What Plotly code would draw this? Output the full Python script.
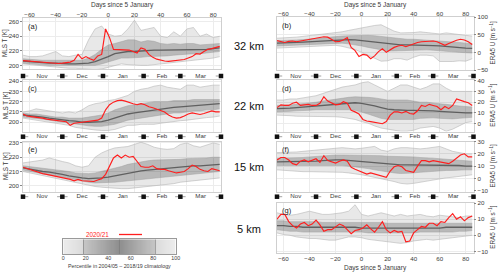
import plotly.graph_objects as go

# ---------------- data ----------------
BAND_DAYS = list(range(-65, 86, 5))
RED_DAYS = list(range(-65, 86, 3))
DAY_TICKS = [-60, -40, -20, 0, 20, 40, 60, 80]
MONTH_STARTS = [-65, -35, -4, 27, 55, 86]
MONTH_MIDS = [-50.5, -20, 11, 41, 70.5]
MONTH_NAMES = ["Nov", "Dec", "Jan", "Feb", "Mar"]
CB_EDGES = list(range(0, 101))
CB_TICKS = [0, 20, 40, 60, 80, 100]
CB_LINES = [18, 50, 82]
LEVELS = ["32 km", "22 km", "15 km", "5 km"]
LEGEND_LABEL = "2020/21"

# (a) MLS T 32 km
A_RED = [206.5, 206, 205.5, 205, 204, 203.5, 203, 202.5, 202.5, 202.5,
         203, 203.5, 204.5, 207, 215, 209, 212, 209, 207, 213,
         215, 250, 238, 222, 222, 222, 222, 221, 219, 217,
         224, 222, 215, 211, 208.5, 207, 206, 205.5, 206, 206.5,
         207, 208, 210, 212, 216, 215.5, 219, 222, 223, 225, 226]
A_OUT_HI = [214, 212, 212, 213, 216, 219, 213, 212, 214, 215, 235, 250, 254, 243, 240, 241,
            250, 262, 248, 250, 252, 240, 238, 246, 240, 250, 252, 240, 243, 238, 240]
A_OUT_LO = [202, 201, 200, 199, 199, 198, 197, 196, 196, 195, 194, 194, 195, 197, 199, 202,
            201, 200, 200, 200, 201, 202, 203, 203, 204, 205, 206, 207, 209, 210, 212]
A_IN_HI = [209, 208, 207, 207, 207, 207, 206, 206, 206, 207, 210, 215, 222, 228, 230, 232,
           235, 235, 232, 234, 233, 230, 229, 230, 229, 230, 230, 228, 229, 229, 230]
A_IN_LO = [203, 202, 201, 201, 200, 200, 200, 199, 199, 199, 199, 200, 202, 205, 208, 210,
           210, 210, 211, 212, 212, 213, 213, 214, 215, 215, 216, 216, 217, 218, 219]
A_MED = [206, 205, 204, 204, 203, 203, 202, 202, 202, 202, 203, 205, 208, 212, 216, 218,
         219, 219, 220, 220, 221, 221, 221, 221, 221, 221, 222, 222, 222, 223, 224]

# (c) MLS T 22 km
C_RED = [208, 206, 205.5, 205, 205, 204, 203, 202.5, 202, 201.5,
         201, 200.5, 197, 199, 199.5, 200, 200, 200.5, 201, 202,
         204, 212, 217, 219.5, 221, 221.5, 220.5, 219, 218, 217,
         218, 217, 215, 214, 212.5, 211.5, 210, 207, 205, 204,
         204.5, 206, 208, 209, 208, 207.5, 208.5, 209.5, 211, 210, 210]
C_OUT_HI = [210, 211, 213, 212, 211, 210, 209, 210, 209, 212, 216, 218, 219, 221, 222, 224,
            226, 230, 232, 233, 235, 236, 234, 233, 232, 236, 236, 234, 235, 236, 236]
C_OUT_LO = [204, 203, 202, 201, 200, 199, 198, 197, 195, 194, 193, 192.5, 192, 192, 193, 195,
            197, 197, 198, 198, 198, 199, 200, 201, 201.5, 202, 203, 204, 204.5, 205, 206]
C_IN_HI = [209, 208, 208, 207, 206, 205, 205, 204, 204, 204, 205, 206, 207, 209, 212, 214,
           216, 217, 218, 219, 220, 220, 220, 221, 221, 221, 222, 222, 222, 222, 222]
C_IN_LO = [205, 204.5, 204, 203, 202, 201, 200, 199, 198, 197, 196.5, 196, 196, 197, 198, 200,
           202, 203, 204, 205, 206, 207, 208, 209, 209, 210, 211, 211, 212, 212, 213]
C_MED = [207, 206.5, 206, 205, 204, 203, 202.5, 201.5, 201, 200, 200, 200, 200.5, 202, 204, 206,
         208, 209, 210, 211, 212, 213, 214, 214.5, 215, 215.5, 216, 216.5, 217, 217, 218]

# (e) MLS T 15 km
E_RED = [213, 212, 211.5, 210.5, 209.5, 208.5, 208, 207.5, 207, 206.5,
         206, 205.5, 204.5, 203.5, 204.5, 203.5, 203.5, 203, 203, 204,
         205, 208, 214, 219.5, 221.5, 219.5, 221.5, 220, 220.5, 217,
         213.5, 213, 213, 214, 212, 211.5, 211.5, 210.5, 210, 209,
         209.5, 210, 212, 214.5, 213.5, 211.5, 210.5, 210, 212, 211, 210.5]
E_OUT_HI = [216, 216.5, 217, 218, 219.5, 218, 217, 216, 214, 213, 214, 220, 223, 225, 226.5, 227,
            227.5, 229, 230.5, 229, 227, 226, 225.5, 226, 229, 230, 228, 227, 228.5, 230, 229]
E_OUT_LO = [210, 209, 208, 207, 206.5, 205.5, 204.5, 203.5, 202.5, 201.5, 200.5, 199.5, 199, 198.5,
            198, 198, 198, 198.5, 199, 199, 199.5, 200, 200.5, 201.5, 202.5, 203, 203.5, 204,
            204.5, 205, 205.5]
E_IN_HI = [214, 213.5, 213, 212.5, 212, 211.5, 211, 210, 209, 208.5, 208.5, 209, 210, 211, 212.5,
           213.5, 215, 216, 217, 217.5, 218, 218, 218, 218, 218.5, 219, 219, 219.5, 219.5, 220, 220]
E_IN_LO = [211, 210, 209, 208, 207.5, 207, 206, 205, 204, 203, 202.5, 202, 202, 202, 202.5, 203,
           203.5, 204, 204.5, 205, 205.5, 206, 206.5, 207, 207.5, 208, 208.5, 209, 209, 209.5, 210]
E_MED = [212.5, 211.5, 211, 210, 209.5, 209, 208, 207, 206, 205.5, 205, 205, 205.5, 206, 207, 208,
         209, 210, 210.5, 211, 211.5, 212, 212.5, 213, 213, 213.5, 214, 214, 214.5, 214.5, 215]

# (b) ERA5 U 32 km
B_RED = [33, 31, 28, 31, 32, 30, 32, 35, 37, 39,
         40, 42, 44, 43, 37, 30, 31, 35, 42, 14,
         5, -12, -6, -8, -18, -10, 2, 10, 0, 8,
         14, 18, 20, 16, 20, 25, 28, 30, 31, 32,
         32, 30, 26, 20, 25, 30, 34, 37, 35, 30, 22]
B_OUT_HI = [40, 40, 42, 43, 45, 47, 48, 50, 52, 54, 58, 62, 66, 70, 74, 76,
            78, 68, 60, 55, 55, 56, 58, 56, 54, 52, 55, 52, 50, 48, 46]
B_OUT_LO = [12, 13, 14, 15, 16, 17, 18, 19, 20, 20, 17, 13, 8, 0, -8, -18,
            -25, -24, -18, -18, -22, -14, -8, -8, -10, -26, -27, -26, -24, -25, -18]
B_IN_HI = [33, 33, 34, 35, 36, 38, 40, 42, 44, 45, 46, 47, 48, 48, 48, 47,
           45, 42, 40, 38, 37, 37, 36, 35, 34, 32, 30, 29, 28, 26, 24]
B_IN_LO = [18, 19, 20, 21, 22, 23, 24, 25, 26, 27, 26, 24, 22, 18, 14, 10,
           6, 4, 4, 5, 5, 6, 7, 7, 6, 4, 2, 1, 0, -1, -2]
B_MED = [26, 26, 27, 28, 29, 30, 32, 34, 35, 36, 36, 36, 35, 33, 31, 29,
         27, 24, 22, 21, 21, 21, 21, 20, 19, 18, 16, 15, 14, 12, 11]

# (d) ERA5 U 22 km
D_RED = [15, 17.5, 17, 17, 19, 20, 17, 17.5, 18, 17,
         17, 19, 25, 21, 19, 17.5, 18, 20.5, 19, 12.5,
         11, 9, 4, 2.5, 2, 1.5, 0.5, 0, 2, 8,
         11, 11, 10, 11.5, 9.5, 9, 12, 17, 16, 18,
         17, 16, 13, 16, 14, 17, 23, 21.5, 20.5, 19.5, 17]
D_OUT_HI = [22, 22, 23, 23, 24, 25, 26, 28, 30, 32, 34, 35, 36, 38, 39, 36,
            33, 30, 33, 36, 36, 34, 32, 34, 37, 37, 33, 30, 30, 30, 30]
D_OUT_LO = [8, 8, 7.5, 7, 7, 6.5, 6.5, 6.5, 6.5, 6.5, 6, 5, 4, 2, 0.5, -2,
            -4, -5, -6, -7, -7, -6, -4, -3, -2.5, -4, -7, -5, -2, 1, 2]
D_IN_HI = [17, 17, 17.5, 18, 18.5, 19, 20, 21, 22, 23, 24, 24.5, 25, 25, 24.5, 24,
           23, 22, 22, 22, 22, 21, 20, 20, 19, 18.5, 18, 17, 16.5, 16, 15.5]
D_IN_LO = [11, 11, 11.5, 12, 12, 12.5, 13, 13, 13.5, 13.5, 13.5, 13, 12.5, 11, 9, 7,
           5, 4, 4, 3.5, 3.5, 4, 5, 5.5, 5.5, 5, 4.5, 4.5, 5, 5.5, 6]
D_MED = [14, 14, 14.5, 15, 15.5, 16, 17, 17.5, 18, 18.5, 19, 19.5, 19.5, 19, 18, 16.5,
         15, 13.5, 13, 12.5, 12.5, 12.5, 12.5, 12.5, 12, 11.5, 11, 10.5, 10.5, 10, 10]

# (f) ERA5 U 15 km
F_RED = [15, 17, 17, 15, 12, 11, 14, 15, 13.5, 15,
         16, 13, 18.5, 14.5, 13.5, 12.5, 14, 15, 14, 9,
         7.5, 6, 5, 3.5, 4.5, 3.5, 3, 2, 1, 6,
         9.5, 10.5, 9.5, 6.5, 5.5, 5, 10, 14.5, 14.5, 13.5,
         14.5, 14, 13, 13, 12, 14, 16.5, 19, 20, 17.5, 17.5]
F_OUT_HI = [21, 21, 21.5, 21.5, 22, 22.5, 23, 24, 24.5, 25, 25, 24.5, 24, 24.5, 25.5, 26,
            23, 22, 24, 25, 25, 24.5, 24, 24.5, 25.5, 26, 24, 22, 21, 20, 20]
F_OUT_LO = [7, 6.5, 6, 6, 5.5, 5.5, 5.5, 5.5, 5.5, 5.5, 5, 4.5, 4, 3, 2, 1,
            0, -1, -2.5, -4, -4.5, -4, -3, -2, -1, 0, 0.5, 1, 1.5, 2.5, 3]
F_IN_HI = [16.5, 16.5, 16.5, 17, 17, 17.5, 18, 18.5, 19, 19, 19, 19, 19, 19, 19, 19,
           18.5, 18, 18, 18, 18, 17.5, 17, 17, 16.5, 16, 15.5, 15, 14.5, 14, 14]
F_IN_LO = [10.5, 10.5, 10.5, 10.5, 10.5, 10.5, 10.5, 11, 11, 11, 10.5, 10, 9.5, 9, 8, 7,
           6, 5, 4.5, 4, 4, 4.5, 5, 5.5, 6, 6, 6.5, 6.5, 7, 7, 7]
F_MED = [13.5, 13.5, 13.5, 13.5, 14, 14, 14, 14.5, 15, 15, 15, 14.5, 14, 14, 13.5, 13,
         12.5, 11.5, 11, 11, 11, 11, 11, 11, 11, 11, 10.5, 10.5, 10.5, 10, 10]

# (g) ERA5 U 5 km
G_RED = [10, 13, 13, 8.5, 6, 4.6, 7, 8, 6, 7,
         9.5, 6.5, 2.5, 3.5, 3.5, 5, 7, 6, 3.5, 1,
         3, 3.5, 4.6, 6.5, 4, 2, 5, 8.5, 3.5, 1.5,
         3, 2, 2.5, -4, -3.5, 1.5, 3.5, 5.5, 5, 7.5,
         7.5, 6, 8.5, 8, 11, 13.5, 10, 11.5, 9, 11, 12]
G_OUT_HI = [14, 13, 12.5, 13, 14, 15, 14, 13, 13, 13.5, 14, 15, 19, 13, 12, 13,
            14, 13, 12, 13, 12, 12.5, 13, 12, 11.5, 12.5, 12, 11.5, 11, 12, 12]
G_OUT_LO = [1.5, 0.5, 0, -1, -1.5, -2, -2, -2.5, -3, -3, -2, -1, -1, -1.5, -2.5, -3,
            -3.5, -4, -4.5, -5, -4.5, -3.5, -3, -2.5, -3, -2.5, -2, -1.5, -1, -0.5, 0]
G_IN_HI = [9, 9, 8.5, 8.5, 8.5, 8.5, 8.5, 8, 8, 8, 8, 8, 8, 8, 8, 8,
           8, 7.5, 7.5, 7.5, 7.5, 7.5, 7.5, 7.5, 7.5, 7.5, 7.5, 7.5, 7.5, 7.5, 7.5]
G_IN_LO = [3.5, 3, 2.5, 2.5, 2, 2, 2, 2, 2, 2, 2, 2, 2, 2, 1.5, 1.5,
           1.5, 1.5, 1.5, 1.5, 1.5, 1.5, 2, 2, 2, 2, 2, 2, 2.5, 2.5, 3]
G_MED = [6, 6, 5.5, 5.5, 5, 5, 5, 5, 5, 5, 5, 5, 5, 4.5, 4.5, 4.5,
         4.5, 4.5, 4.5, 4.5, 4.5, 4.5, 4.5, 4.5, 4.5, 4.5, 5, 5, 5, 5, 5]

# ---------------- layout helpers ----------------
W, H = 500, 274
FONT = "Liberation Sans, Arial, Helvetica, sans-serif"
TXT = "#3a3a3a"
GRID = "#ececec"
FRAME = "#cfcfcf"
RED = "#ff1e1e"


def px_x(x0, x1):
    return [x0 / W, x1 / W]


def px_y(y0, y1):
    return [1 - y1 / H, 1 - y0 / H]


LEFT = (23, 221)
RIGHT = (277, 473.5)
XRANGE = [-65, 86]

PANELS = [
    ("a", (A_RED, A_OUT_HI, A_OUT_LO, A_IN_HI, A_IN_LO, A_MED), LEFT, (18, 69), [195, 265], [200, 220, 240, 260], 76, "top"),
    ("b", (B_RED, B_OUT_HI, B_OUT_LO, B_IN_HI, B_IN_LO, B_MED), RIGHT, (17, 70), [-50, 100], [-50, 0, 50, 100], 76, "top"),
    ("c", (C_RED, C_OUT_HI, C_OUT_LO, C_IN_HI, C_IN_LO, C_MED), LEFT, (80, 131.5), [191, 241], [200, 210, 220, 230, 240], 136.7, None),
    ("d", (D_RED, D_OUT_HI, D_OUT_LO, D_IN_HI, D_IN_LO, D_MED), RIGHT, (80, 131.5), [-7.2, 40.6], [0, 10, 20, 30, 40], 136.7, None),
    ("e", (E_RED, E_OUT_HI, E_OUT_LO, E_IN_HI, E_IN_LO, E_MED), LEFT, (141.5, 191.5), [196, 231], [200, 210, 220, 230], 196.7, None),
    ("f", (F_RED, F_OUT_HI, F_OUT_LO, F_IN_HI, F_IN_LO, F_MED), RIGHT, (141.5, 191.5), [-10.6, 30], [-10, 0, 10, 20, 30], 196.7, None),
    ("g", (G_RED, G_OUT_HI, G_OUT_LO, G_IN_HI, G_IN_LO, G_MED), RIGHT, (202.5, 253), [-11, 20.4], [-10, 0, 10, 20], None, "bottom"),
]


def ax_names(n):
    return ("x" if n == 1 else f"x{n}", "y" if n == 1 else f"y{n}",
            "xaxis" if n == 1 else f"xaxis{n}", "yaxis" if n == 1 else f"yaxis{n}")


fig = go.Figure()
layout = {}
annotations = []
shapes = []


def ann(text, x, y, size, color=TXT, angle=0, xanchor="center", yanchor="middle"):
    annotations.append(dict(text=text, x=x / W, y=1 - y / H, xref="paper", yref="paper",
                            showarrow=False, textangle=angle, xanchor=xanchor, yanchor=yanchor,
                            font=dict(family=FONT, size=size, color=color)))


n_extra = len(PANELS)
for i, (letter, data, col, (ytop, ybot), yrange, yticks, month_y, xlab) in enumerate(PANELS):
    n = i + 1
    xa, ya, xk, yk = ax_names(n)
    red, out_hi, out_lo, in_hi, in_lo, med = data
    common = dict(xaxis=xa, yaxis=ya, hoverinfo="skip", showlegend=False)
    fig.add_trace(go.Scatter(x=BAND_DAYS, y=out_lo, mode="lines",
                             line=dict(color="#b5b5b5", width=0.6), **common))
    fig.add_trace(go.Scatter(x=BAND_DAYS, y=out_hi, mode="lines", fill="tonexty",
                             fillcolor="rgba(0,0,0,0.09)",
                             line=dict(color="#b5b5b5", width=0.6), **common))
    fig.add_trace(go.Scatter(x=BAND_DAYS, y=in_lo, mode="lines",
                             line=dict(color="#a0a0a0", width=0.5), **common))
    fig.add_trace(go.Scatter(x=BAND_DAYS, y=in_hi, mode="lines", fill="tonexty",
                             fillcolor="rgba(0,0,0,0.20)",
                             line=dict(color="#a0a0a0", width=0.5), **common))
    fig.add_trace(go.Scatter(x=BAND_DAYS, y=med, mode="lines",
                             line=dict(color="rgba(80,80,80,0.85)", width=1.3), **common))
    fig.add_trace(go.Scatter(x=RED_DAYS, y=red, mode="lines",
                             line=dict(color=RED, width=1.15), **common))

    show_x = xlab is not None
    layout[xk] = dict(domain=px_x(*col), range=XRANGE, anchor=ya, tickvals=DAY_TICKS,
                      showticklabels=show_x, side=xlab if show_x else "bottom",
                      ticks="", ticklabelstandoff=(-2 if xlab == "top" else 0),
                      showgrid=True, gridcolor=GRID, gridwidth=0.6, zeroline=False,
                      showline=True, mirror=True, linecolor=FRAME, linewidth=0.6, automargin=False,
                      tickfont=dict(family=FONT, size=6.2, color=TXT), fixedrange=True)
    layout[yk] = dict(domain=px_y(ytop, ybot), range=yrange, anchor=xa, tickvals=yticks,
                      side="left" if col is LEFT else "right",
                      ticks="outside", ticklen=2, tickwidth=0.6, tickcolor="#888",
                      showgrid=True, gridcolor=GRID, gridwidth=0.6, zeroline=False,
                      showline=True, mirror=True, linecolor=FRAME, linewidth=0.6, automargin=False,
                      tickfont=dict(family=FONT, size=6.2, color=TXT), fixedrange=True)

    # panel letter
    ann(f"({letter})", col[0] + 2.5, ytop + 1.5, 7.5, color="#222", xanchor="left", yanchor="top")
    # axis titles
    yc = (ytop + ybot) / 2
    if col is LEFT:
        ann("MLS T [K]", 5.5, yc, 6.3, angle=-90)
    else:
        ann("ERA5 U [m s<sup>−1</sup>]", 493, yc, 6.3, angle=-90)

    # month row
    if month_y is not None:
        n_extra += 1
        mxa, mya, mxk, myk = ax_names(n_extra)
        layout[mxk] = dict(domain=px_x(*col), range=XRANGE, visible=False, anchor=mya,
                           automargin=False, fixedrange=True)
        layout[myk] = dict(domain=px_y(month_y - 4, month_y + 4), range=[0, 1], visible=False,
                           anchor=mxa, automargin=False, fixedrange=True)
        seg_x, seg_y = [], []
        for b in MONTH_STARTS:
            seg_x += [b - 4, b + 4, None]
            seg_y += [0.5, 0.5, None]
        mcommon = dict(xaxis=mxa, yaxis=mya, hoverinfo="skip", showlegend=False)
        fig.add_trace(go.Scatter(x=seg_x, y=seg_y, mode="lines",
                                 line=dict(color="#8a8a8a", width=0.8), **mcommon))
        fig.add_trace(go.Scatter(x=MONTH_STARTS, y=[0.5] * len(MONTH_STARTS), mode="markers",
                                 marker=dict(symbol="square", size=4.5, color="#111"),
                                 cliponaxis=False, **mcommon))
        fig.add_trace(go.Scatter(x=MONTH_MIDS, y=[0.5] * len(MONTH_MIDS), mode="text",
                                 text=MONTH_NAMES, cliponaxis=False,
                                 textfont=dict(family=FONT, size=6.2, color=TXT), **mcommon))

# x-axis titles
ann("Days since 5 January", (LEFT[0] + LEFT[1]) / 2, 5, 6.5)
ann("Days since 5 January", (RIGHT[0] + RIGHT[1]) / 2, 5, 6.5)
ann("Days since 5 January", (RIGHT[0] + RIGHT[1]) / 2, 267.5, 6.5)

# level labels
for lab, yy in zip(LEVELS, [46, 106, 167, 229]):
    ann(lab, 249, yy, 11, color="#111")

# legend
ann(LEGEND_LABEL, 97, 234, 6.3, color=RED)
shapes.append(dict(type="line", xref="paper", yref="paper", x0=119 / W, x1=142 / W,
                   y0=1 - 234.5 / H, y1=1 - 234.5 / H, line=dict(color=RED, width=1.3)))

# colorbar
n_extra += 1
cxa, cya, cxk, cyk = ax_names(n_extra)
layout[cxk] = dict(domain=px_x(63.3, 175.7), range=[0, 100], anchor=cya, tickvals=CB_TICKS,
                   ticks="", ticklabelstandoff=-1,
                   showline=True, mirror=True, linecolor="#9a9a9a", linewidth=0.6,
                   showgrid=False, zeroline=False, automargin=False,
                   tickfont=dict(family=FONT, size=5.3, color=TXT), fixedrange=True)
layout[cyk] = dict(domain=px_y(239.3, 254), range=[0, 1], anchor=cxa, showticklabels=False,
                   ticks="", showline=True, mirror=True, linecolor="#9a9a9a", linewidth=0.6,
                   showgrid=False, zeroline=False, automargin=False, fixedrange=True)
cb_centers = [(CB_EDGES[k] + CB_EDGES[k + 1]) / 2 for k in range(len(CB_EDGES) - 1)]
fig.add_trace(go.Heatmap(x=CB_EDGES, y=[0, 1], z=[cb_centers], zmin=0, zmax=100,
                         colorscale=[[0, "#ececec"], [0.18, "#dadada"], [0.18, "#c6c6c6"],
                                     [0.5, "#8e8e8e"], [0.82, "#c6c6c6"], [0.82, "#dadada"],
                                     [1, "#ececec"]],
                         showscale=False, hoverinfo="skip", xaxis=cxa, yaxis=cya))
lx, ly = [], []
for v in CB_LINES:
    lx += [v, v, None]
    ly += [0, 1, None]
fig.add_trace(go.Scatter(x=lx, y=ly, mode="lines", line=dict(color="#777", width=0.6),
                         hoverinfo="skip", showlegend=False, xaxis=cxa, yaxis=cya))
ann("Percentile in 2004/05 – 2018/19 climatology", 119.5, 265.5, 5.3)

fig.update_layout(template="none", width=W, height=H, margin=dict(l=0, r=0, t=0, b=0, pad=0),
                  paper_bgcolor="white", plot_bgcolor="white", showlegend=False,
                  font=dict(family=FONT, size=6.2, color=TXT),
                  annotations=annotations, shapes=shapes, **layout)

fig.write_html("out.html", config={"displayModeBar": False},
               post_script="document.body.style.margin='0px';document.body.style.overflow='hidden';")
